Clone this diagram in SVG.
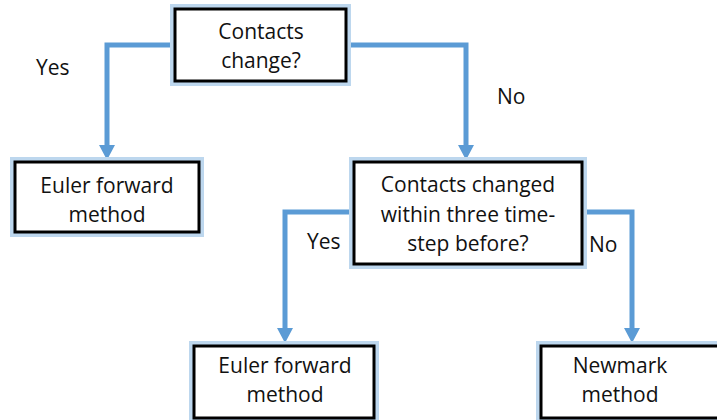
<svg xmlns="http://www.w3.org/2000/svg" width="717" height="420" viewBox="0 0 717 420">
<style>
.box{fill:#fff;stroke:#000;stroke-width:3}
.glow{fill:none;stroke:#BDD7EE;stroke-width:4}
.t{font-family:"Open Sans","Liberation Sans",sans-serif;font-size:21px;fill:#111;text-anchor:middle}
.lbl{font-family:"Open Sans","Liberation Sans",sans-serif;font-size:21px;fill:#111}
.c{fill:none;stroke:#5B9BD5;stroke-width:5}
.ah{fill:#5B9BD5}
</style>
<defs>
<path id="arr" d="M-8,-15 L8,-15 L0,0 Z"/>
</defs>
<g id="connectors">
<polyline class="c" points="174,45 107,45 107,148"/>
<use href="#arr" class="ah" x="107" y="160"/>
<polyline class="c" points="347,45 466,45 466,148"/>
<use href="#arr" class="ah" x="466" y="160"/>
<polyline class="c" points="353,212 285,212 285,330"/>
<use href="#arr" class="ah" x="285" y="343"/>
<polyline class="c" points="583,212 632,212 632,330"/>
<use href="#arr" class="ah" x="632" y="343"/>
</g>
<g id="n-contacts">
<rect class="glow" x="172" y="6" width="177" height="78"/>
<rect class="box" x="175" y="9" width="171" height="72"/>
<text class="t" x="261" y="39">Contacts</text>
<text class="t" x="261" y="68">change?</text>
</g>
<g id="n-euler1">
<rect class="glow" x="12" y="159" width="190" height="76"/>
<rect class="box" x="15" y="162" width="184" height="70"/>
<text class="t" x="107" y="193">Euler forward</text>
<text class="t" x="107" y="222">method</text>
</g>
<g id="n-changed">
<rect class="glow" x="351" y="159" width="234" height="108"/>
<rect class="box" x="354" y="162" width="228" height="102"/>
<text class="t" x="468" y="192">Contacts changed</text>
<text class="t" x="468" y="222">within three time-</text>
<text class="t" x="468" y="251">step before?</text>
</g>
<g id="n-euler2">
<rect class="glow" x="191" y="343" width="186" height="78"/>
<rect class="box" x="194" y="346" width="180" height="72"/>
<text class="t" x="285" y="373">Euler forward</text>
<text class="t" x="285" y="402">method</text>
</g>
<g id="n-newmark">
<rect class="glow" x="538" y="343" width="200" height="78"/>
<rect class="box" x="541" y="346" width="194" height="72"/>
<text class="t" x="620" y="373">Newmark</text>
<text class="t" x="620" y="402">method</text>
</g>
<g id="labels">
<text class="lbl" x="36" y="75">Yes</text>
<text class="lbl" x="497" y="104">No</text>
<text class="lbl" x="307" y="249">Yes</text>
<text class="lbl" x="589" y="252">No</text>
</g>
</svg>
